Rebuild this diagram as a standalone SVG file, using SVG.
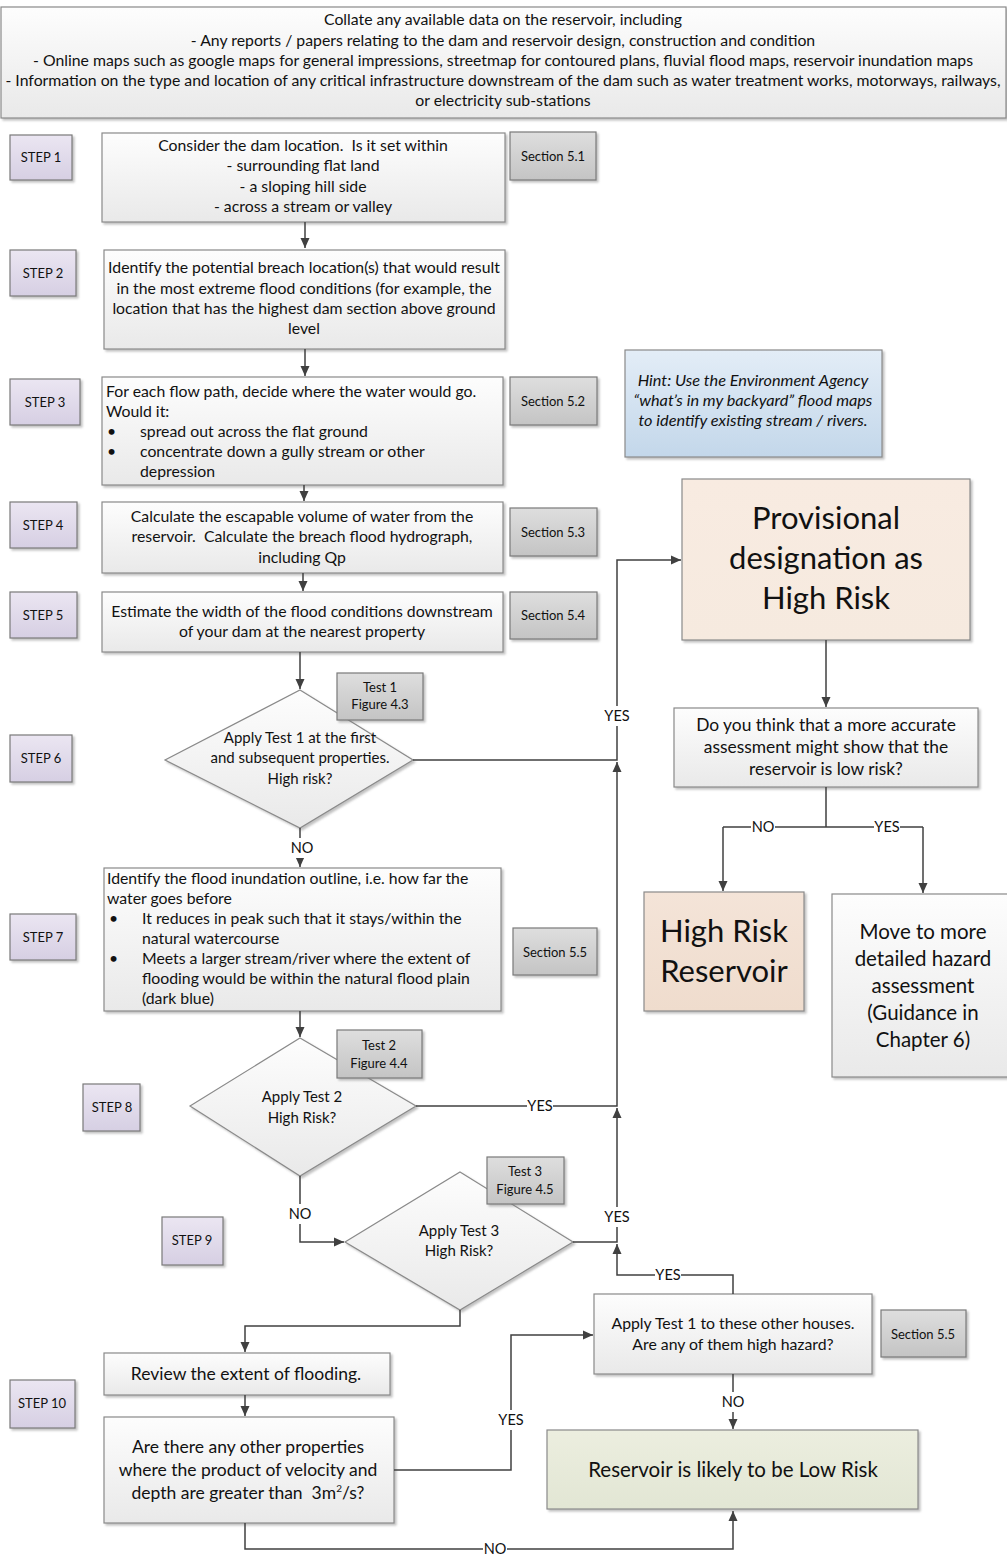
<svg xmlns="http://www.w3.org/2000/svg" width="1007" height="1555" viewBox="0 0 1007 1555">
<defs>
<linearGradient id="gBox" x1="0" y1="0" x2="0" y2="1"><stop offset="0" stop-color="#fdfdfd"/><stop offset="1" stop-color="#e9e9e9"/></linearGradient>
<linearGradient id="gSec" x1="0" y1="0" x2="0" y2="1"><stop offset="0" stop-color="#dedede"/><stop offset="1" stop-color="#c4c4c4"/></linearGradient>
<linearGradient id="gStep" x1="0" y1="0" x2="0" y2="1"><stop offset="0" stop-color="#ebe6f2"/><stop offset="1" stop-color="#d6cfe3"/></linearGradient>
<linearGradient id="gHint" x1="0" y1="0" x2="0" y2="1"><stop offset="0" stop-color="#e3edf7"/><stop offset="1" stop-color="#c3d7ea"/></linearGradient>
<linearGradient id="gProv" x1="0" y1="0" x2="0" y2="1"><stop offset="0" stop-color="#f8ebe1"/><stop offset="1" stop-color="#f6eadf"/></linearGradient>
<linearGradient id="gHR" x1="0" y1="0" x2="0" y2="1"><stop offset="0" stop-color="#f4e4d8"/><stop offset="1" stop-color="#efdccd"/></linearGradient>
<linearGradient id="gLow" x1="0" y1="0" x2="0" y2="1"><stop offset="0" stop-color="#eceedf"/><stop offset="1" stop-color="#e2e6d4"/></linearGradient>
<filter id="sh" x="-10%" y="-10%" width="130%" height="130%"><feDropShadow dx="2" dy="2" stdDeviation="1.2" flood-color="#777" flood-opacity="0.45"/></filter>
<marker id="ah" viewBox="0 0 10 10" refX="10" refY="5" markerWidth="10" markerHeight="10" markerUnits="userSpaceOnUse" orient="auto"><path d="M0,0.5 L10,5 L0,9.5 z" fill="#404040"/></marker>
</defs>
<style>
text{font-family:Lato,"Liberation Sans",sans-serif;fill:#111;font-size:15.8px}
.c{text-anchor:middle}
.box{fill:url(#gBox);stroke:#8a8a8a;stroke-width:1.2;filter:url(#sh)}
.sec{fill:url(#gSec);stroke:#7a7a7a;stroke-width:1.2;filter:url(#sh)}
.step{fill:url(#gStep);stroke:#7a7a7a;stroke-width:1.2;filter:url(#sh)}
text.sm{font-size:13px}
text.yn{font-size:14.5px}
text.dm{font-size:15px}
text.big{font-size:31px}
text.q{font-size:17.4px}
text.mv{font-size:20.5px}
text.lr{font-size:20.5px}
text.rv{font-size:17.5px}
text.hn{font-size:16.3px;font-style:italic}
.ln{fill:none;stroke:#404040;stroke-width:1.5}
.lab{fill:#fff}
</style>

<g id="collate">
<rect class="box" x="1" y="7" width="1005" height="111"/>
<text class="c" x="503" y="25">Collate any available data on the reservoir, including</text>
<text class="c" x="503" y="46">- Any reports / papers relating to the dam and reservoir design, construction and condition</text>
<text class="c" x="503" y="66">- Online maps such as google maps for general impressions, streetmap for contoured plans, fluvial flood maps, reservoir inundation maps</text>
<text class="c" x="503" y="86">- Information on the type and location of any critical infrastructure downstream of the dam such as water treatment works, motorways, railways,</text>
<text class="c" x="503" y="106">or electricity sub-stations</text>
</g>

<g id="step1label"><rect class="step" x="10" y="135" width="62" height="45"/><text class="c sm" x="41" y="162">STEP 1</text></g>
<g id="step1">
<rect class="box" x="102" y="133" width="403" height="89"/>
<text class="c" x="303" y="151">Consider the dam location.&#160; Is it set within</text>
<text class="c" x="303" y="171">- surrounding flat land</text>
<text class="c" x="303" y="192">- a sloping hill side</text>
<text class="c" x="303" y="212">- across a stream or valley</text>
</g>
<g id="sec51"><rect class="sec" x="510" y="132" width="86" height="48"/><text class="c sm" x="553" y="161">Section 5.1</text></g>

<g id="step2label"><rect class="step" x="10" y="250" width="66" height="46"/><text class="c sm" x="43" y="278">STEP 2</text></g>
<g id="step2">
<rect class="box" x="104" y="250" width="401" height="99"/>
<text class="c" x="304" y="273">Identify the potential breach location(s) that would result</text>
<text class="c" x="304" y="294">in the most extreme flood conditions (for example, the</text>
<text class="c" x="304" y="314">location that has the highest dam section above ground</text>
<text class="c" x="304" y="334">level</text>
</g>

<g id="step3label"><rect class="step" x="10" y="379" width="70" height="46"/><text class="c sm" x="45" y="407">STEP 3</text></g>
<g id="step3">
<rect class="box" x="102" y="377" width="401" height="108"/>
<text x="106" y="397">For each flow path, decide where the water would go.</text>
<text x="106" y="417">Would it:</text>
<text x="107" y="437">•</text><text x="140" y="437">spread out across the flat ground</text>
<text x="107" y="457">•</text><text x="140" y="457">concentrate down a gully stream or other</text>
<text x="140" y="477">depression</text>
</g>
<g id="sec52"><rect class="sec" x="510" y="377" width="87" height="48"/><text class="c sm" x="553" y="406">Section 5.2</text></g>

<g id="step4label"><rect class="step" x="10" y="502" width="67" height="46"/><text class="c sm" x="43" y="530">STEP 4</text></g>
<g id="step4">
<rect class="box" x="102" y="502" width="401" height="71"/>
<text class="c" x="302" y="522">Calculate the escapable volume of water from the</text>
<text class="c" x="302" y="542">reservoir.&#160; Calculate the breach flood hydrograph,</text>
<text class="c" x="302" y="563">including Qp</text>
</g>
<g id="sec53"><rect class="sec" x="510" y="508" width="87" height="48"/><text class="c sm" x="553" y="537">Section 5.3</text></g>

<g id="step5label"><rect class="step" x="10" y="592" width="67" height="46"/><text class="c sm" x="43" y="620">STEP 5</text></g>
<g id="step5">
<rect class="box" x="102" y="592" width="401" height="60"/>
<text class="c" x="302" y="617">Estimate the width of the flood conditions downstream</text>
<text class="c" x="302" y="637">of your dam at the nearest property</text>
</g>
<g id="sec54"><rect class="sec" x="510" y="592" width="87" height="47"/><text class="c sm" x="553" y="620">Section 5.4</text></g>

<g id="step6label"><rect class="step" x="10" y="735" width="62" height="47"/><text class="c sm" x="41" y="763">STEP 6</text></g>
<g id="test1dec">
<polygon class="box" points="300,690 413,760 300,828 165,760"/>
<text class="c dm" x="300" y="743">Apply Test 1 at the first</text>
<text class="c dm" x="300" y="763">and subsequent properties.</text>
<text class="c dm" x="300" y="784">High risk?</text>
</g>
<g id="test1ref"><rect class="sec" x="337" y="673" width="86" height="47"/><text class="c sm" x="380" y="692">Test 1</text><text class="c sm" x="380" y="709">Figure 4.3</text></g>

<g id="step7label"><rect class="step" x="10" y="914" width="66" height="46"/><text class="c sm" x="43" y="942">STEP 7</text></g>
<g id="step7">
<rect class="box" x="104" y="868" width="397" height="143"/>
<text x="107" y="884">Identify the flood inundation outline, i.e. how far the</text>
<text x="107" y="904">water goes before</text>
<text x="109" y="924">•</text><text x="142" y="924">It reduces in peak such that it stays/within the</text>
<text x="142" y="944">natural watercourse</text>
<text x="109" y="964">•</text><text x="142" y="964">Meets a larger stream/river where the extent of</text>
<text x="142" y="984">flooding would be within the natural flood plain</text>
<text x="142" y="1004">(dark blue)</text>
</g>
<g id="sec55a"><rect class="sec" x="513" y="928" width="84" height="47"/><text class="c sm" x="555" y="957">Section 5.5</text></g>

<g id="step8label"><rect class="step" x="83" y="1084" width="57" height="47"/><text class="c sm" x="112" y="1112">STEP 8</text></g>
<g id="test2dec">
<polygon class="box" points="300,1038 416,1106 300,1176 190,1106"/>
<text class="c dm" x="302" y="1102">Apply Test 2</text>
<text class="c dm" x="302" y="1123">High Risk?</text>
</g>
<g id="test2ref"><rect class="sec" x="337" y="1030" width="85" height="48"/><text class="c sm" x="379" y="1050">Test 2</text><text class="c sm" x="379" y="1068">Figure 4.4</text></g>

<g id="step9label"><rect class="step" x="162" y="1217" width="61" height="48"/><text class="c sm" x="192" y="1245">STEP 9</text></g>
<g id="test3dec">
<polygon class="box" points="460,1172 573,1242 460,1310 345,1242"/>
<text class="c dm" x="459" y="1236">Apply Test 3</text>
<text class="c dm" x="459" y="1256">High Risk?</text>
</g>
<g id="test3ref"><rect class="sec" x="487" y="1157" width="77" height="47"/><text class="c sm" x="525" y="1176">Test 3</text><text class="c sm" x="525" y="1194">Figure 4.5</text></g>

<g id="step10label"><rect class="step" x="10" y="1380" width="65" height="48"/><text class="c sm" x="42" y="1408">STEP 10</text></g>
<g id="review">
<rect class="box" x="104" y="1353" width="286" height="42"/>
<text class="c rv" x="246" y="1380">Review the extent of flooding.</text>
</g>
<g id="arethere">
<rect class="box" x="104" y="1417" width="290" height="106"/>
<text class="c rv" x="248" y="1453">Are there any other properties</text>
<text class="c rv" x="248" y="1476">where the product of velocity and</text>
<text class="c rv" x="248" y="1499">depth are greater than&#160; 3m<tspan dy="-7" font-size="10px">2</tspan><tspan dy="7">/s?</tspan></text>
</g>

<g id="applytest1">
<rect class="box" x="594" y="1294" width="278" height="80"/>
<text class="c" x="733" y="1329">Apply Test 1 to these other houses.</text>
<text class="c" x="733" y="1350">Are any of them high hazard?</text>
</g>
<g id="sec55b"><rect class="sec" x="881" y="1310" width="85" height="47"/><text class="c sm" x="923" y="1339">Section 5.5</text></g>

<g id="lowrisk">
<rect x="547" y="1430" width="371" height="79" fill="url(#gLow)" stroke="#8a8a8a" stroke-width="1.2" filter="url(#sh)"/>
<text class="c lr" x="733" y="1477">Reservoir is likely to be Low Risk</text>
</g>

<g id="hint">
<rect x="625" y="350" width="257" height="107" fill="url(#gHint)" stroke="#8a8a8a" stroke-width="1.2" filter="url(#sh)"/>
<text class="c hn" x="753" y="386">Hint: Use the Environment Agency</text>
<text class="c hn" x="753" y="406">“what’s in my backyard” flood maps</text>
<text class="c hn" x="753" y="426">to identify existing stream / rivers.</text>
</g>

<g id="provisional">
<rect x="682" y="479" width="288" height="161" fill="url(#gProv)" stroke="#8a8a8a" stroke-width="1.2" filter="url(#sh)"/>
<text class="c big" x="826" y="529">Provisional</text>
<text class="c big" x="826" y="569">designation as</text>
<text class="c big" x="826" y="609">High Risk</text>
</g>

<g id="doyouthink">
<rect class="box" x="674" y="708" width="304" height="79"/>
<text class="c q" x="826" y="731">Do you think that a more accurate</text>
<text class="c q" x="826" y="753">assessment might show that the</text>
<text class="c q" x="826" y="775">reservoir is low risk?</text>
</g>

<g id="highrisk">
<rect x="644" y="892" width="160" height="119" fill="url(#gHR)" stroke="#8a8a8a" stroke-width="1.2" filter="url(#sh)"/>
<text class="c big" x="724" y="942">High Risk</text>
<text class="c big" x="724" y="982">Reservoir</text>
</g>

<g id="moveto">
<rect class="box" x="832" y="894" width="178" height="183"/>
<text class="c mv" x="923" y="939">Move to more</text>
<text class="c mv" x="923" y="966">detailed hazard</text>
<text class="c mv" x="923" y="993">assessment</text>
<text class="c mv" x="923" y="1020">(Guidance in</text>
<text class="c mv" x="923" y="1047">Chapter 6)</text>
</g>

<g id="connectors">
<path class="ln" d="M305,222 V248" marker-end="url(#ah)"/>
<path class="ln" d="M305,349 V376" marker-end="url(#ah)"/>
<path class="ln" d="M304,485 V501" marker-end="url(#ah)"/>
<path class="ln" d="M303,573 V591" marker-end="url(#ah)"/>
<path class="ln" d="M300,652 V689" marker-end="url(#ah)"/>
<path class="ln" d="M300,828 V867" marker-end="url(#ah)"/>
<path class="ln" d="M300,1011 V1037" marker-end="url(#ah)"/>
<path class="ln" d="M300,1176 V1242 H344" marker-end="url(#ah)"/>
<path class="ln" d="M413,760 H617 V560 H681" marker-end="url(#ah)"/>
<path class="ln" d="M416,1106 H617 V762" marker-end="url(#ah)"/>
<path class="ln" d="M573,1242 H617 V1108" marker-end="url(#ah)"/>
<path class="ln" d="M733,1294 V1275 H617 V1244" marker-end="url(#ah)"/>
<path class="ln" d="M460,1310 V1326 H245 V1352" marker-end="url(#ah)"/>
<path class="ln" d="M245,1395 V1416" marker-end="url(#ah)"/>
<path class="ln" d="M394,1470 H511 V1335 H593" marker-end="url(#ah)"/>
<path class="ln" d="M245,1523 V1549 H733 V1511" marker-end="url(#ah)"/>
<path class="ln" d="M733,1374 V1429" marker-end="url(#ah)"/>
<path class="ln" d="M826,640 V707" marker-end="url(#ah)"/>
<path class="ln" d="M826,787 V827 M723,827 H923"/>
<path class="ln" d="M723,827 V891" marker-end="url(#ah)"/>
<path class="ln" d="M923,827 V893" marker-end="url(#ah)"/>
<rect class="lab" x="604" y="706" width="26" height="20"/><text class="c yn" x="617" y="721">YES</text>
<rect class="lab" x="290" y="838" width="24" height="20"/><text class="c yn" x="302" y="853">NO</text>
<rect class="lab" x="527" y="1098" width="26" height="16"/><text class="c yn" x="540" y="1111">YES</text>
<rect class="lab" x="288" y="1204" width="24" height="20"/><text class="c yn" x="300" y="1219">NO</text>
<rect class="lab" x="604" y="1207" width="26" height="20"/><text class="c yn" x="617" y="1222">YES</text>
<rect class="lab" x="655" y="1268" width="26" height="16"/><text class="c yn" x="668" y="1280">YES</text>
<rect class="lab" x="498" y="1410" width="26" height="20"/><text class="c yn" x="511" y="1425">YES</text>
<rect class="lab" x="483" y="1541" width="24" height="16"/><text class="c yn" x="495" y="1554">NO</text>
<rect class="lab" x="721" y="1392" width="24" height="20"/><text class="c yn" x="733" y="1407">NO</text>
<rect class="lab" x="751" y="819" width="24" height="16"/><text class="c yn" x="763" y="832">NO</text>
<rect class="lab" x="874" y="819" width="26" height="16"/><text class="c yn" x="887" y="832">YES</text>
</g>
</svg>
